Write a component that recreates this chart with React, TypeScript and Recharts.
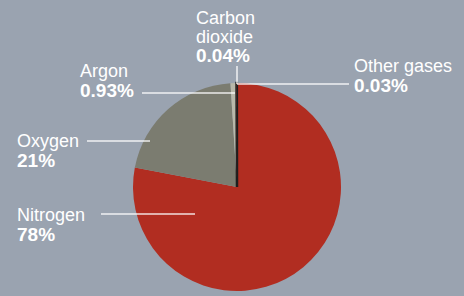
import { PieChart, Pie, Cell } from "recharts";

// Composição do ar seco (%)
const gases = ["Nitrogen", "Oxygen", "Argon", "Carbon dioxide", "Other gases"];
const shares = [78, 21, 0.93, 0.04, 0.03];
const shareLabels = ["78%", "21%", "0.93%", "0.04%", "0.03%"];

const colors = ["#b12d21", "#7b7c70", "#b9b8aa", "#1e1e1e", "#c8453a"];

// texto + linha de chamada de cada fatia
const labelLayout = [
  { x: 17, y: 221, step: 19.5, lines: ["Nitrogen"], line: [101, 214, 195, 214] },
  { x: 17, y: 147, step: 20, lines: ["Oxygen"], line: [87, 141, 150, 141] },
  { x: 80, y: 76.5, step: 20.5, lines: ["Argon"], line: [142, 93, 235, 93] },
  { x: 196, y: 24, step: 19, lines: ["Carbon", "dioxide"], line: [237, 66, 237, 84] },
  { x: 354, y: 71.5, step: 20, lines: ["Other gases"], line: [237, 84, 349, 84] },
];

const data = gases.map((name, i) => ({ name, value: shares[i] }));

const FONT = "'Liberation Sans', Arial, sans-serif";

function renderLabel(props: any) {
  const i = props.index;
  const l = labelLayout[i];
  return (
    <g key={"lbl-" + i}>
      <line
        x1={l.line[0]}
        y1={l.line[1]}
        x2={l.line[2]}
        y2={l.line[3]}
        stroke="#ffffff"
        strokeOpacity={0.85}
        strokeWidth={1.5}
      />
      <text fontFamily={FONT} fill="#ffffff">
        {l.lines.map((t, k) => (
          <tspan key={k} x={l.x} y={l.y + k * l.step} fontSize={18}>
            {t}
          </tspan>
        ))}
        <tspan
          x={l.x}
          y={l.y + l.lines.length * l.step}
          fontSize={19}
          fontWeight="bold"
        >
          {shareLabels[i]}
        </tspan>
      </text>
    </g>
  );
}

export default function App() {
  return (
    <div style={{ width: 464, height: 296, background: "#9aa3b0" }}>
      <style>{`body{margin:0}`}</style>
      <PieChart width={464} height={296} margin={{ top: 0, right: 0, bottom: 0, left: 0 }}>
        <Pie
          data={data}
          dataKey="value"
          nameKey="name"
          cx={237}
          cy={187}
          outerRadius={104}
          startAngle={90}
          endAngle={-270}
          stroke="none"
          label={renderLabel}
          labelLine={false}
          isAnimationActive={false}
        >
          {data.map((d, i) => (
            <Cell
              key={d.name}
              fill={colors[i]}
              stroke={i === 3 ? colors[i] : "none"}
              strokeWidth={i === 3 ? 2.5 : 0}
            />
          ))}
        </Pie>
      </PieChart>
    </div>
  );
}
